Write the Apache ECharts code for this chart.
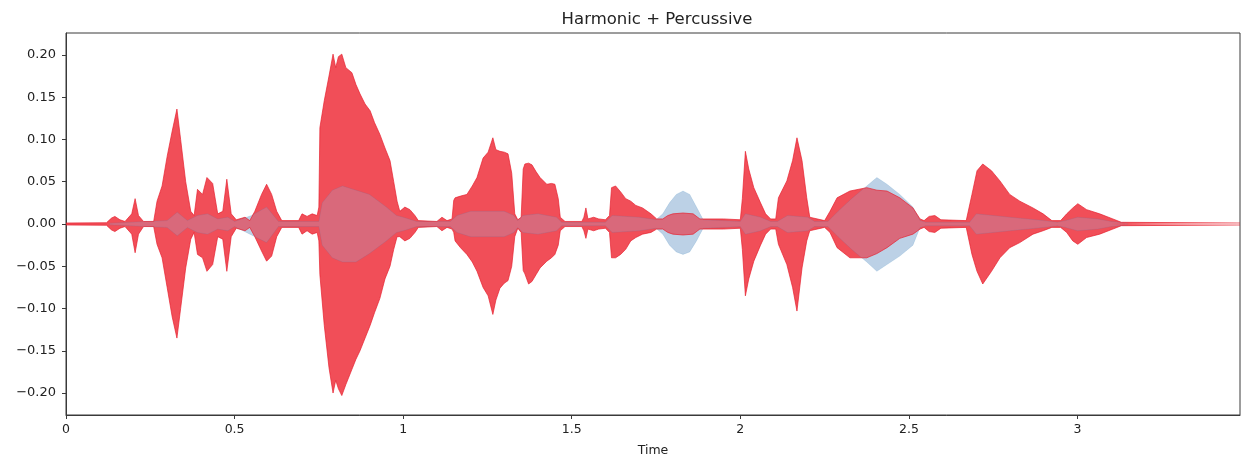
<!DOCTYPE html>
<html>
<head>
<meta charset="utf-8">
<title>Harmonic + Percussive</title>
<script src="https://cdn.jsdelivr.net/npm/echarts@6/dist/echarts.min.js"></script>
<style>
  html, body { margin: 0; padding: 0; background: #fff; }
  #chart { width: 1248px; height: 459px; }
</style>
</head>
<body>
<div id="chart"></div>
<script>
// Percussive component: envelope of the waveform (seconds, upper, lower)
const percTime = [
  0.000, 0.120, 0.135, 0.145, 0.160, 0.175, 0.195, 0.205, 0.215, 0.230,
  0.260, 0.270, 0.285, 0.300, 0.315, 0.329, 0.340, 0.355, 0.370, 0.380,
  0.390, 0.405, 0.418, 0.435, 0.450, 0.465, 0.477, 0.490, 0.505, 0.531,
  0.545, 0.560, 0.580, 0.595, 0.610, 0.625, 0.640, 0.690, 0.700, 0.715,
  0.730, 0.745,
  0.750, 0.753, 0.766, 0.780, 0.792, 0.800, 0.808, 0.818, 0.830, 0.848,
  0.860, 0.872, 0.887, 0.902, 0.915, 0.931, 0.946, 0.961, 0.972, 0.982,
  0.990, 1.005, 1.020, 1.035, 1.045, 1.100, 1.115, 1.130, 1.145,
  1.150, 1.154, 1.170, 1.189, 1.205, 1.219, 1.237, 1.252, 1.266, 1.275,
  1.287, 1.300, 1.311, 1.322, 1.331, 1.340, 1.350, 1.356, 1.361, 1.372,
  1.382, 1.394, 1.406, 1.426, 1.440, 1.450, 1.460, 1.466, 1.480, 1.530,
  1.536, 1.542, 1.548,
  1.565, 1.580, 1.600, 1.612, 1.618, 1.630, 1.645, 1.660, 1.675, 1.690,
  1.710, 1.735, 1.752, 1.770, 1.785, 1.800, 1.830, 1.860, 1.880, 1.950,
  2.000,
  2.006, 2.015, 2.025, 2.040, 2.060, 2.075, 2.090, 2.105, 2.113, 2.138,
  2.155, 2.168, 2.183, 2.197, 2.206, 2.250, 2.266, 2.287, 2.325, 2.375,
  2.405, 2.435, 2.473, 2.512, 2.533,
  2.545, 2.560, 2.577, 2.595, 2.670, 2.687, 2.702, 2.719, 2.745, 2.770,
  2.799, 2.829, 2.868, 2.898, 2.924, 2.950, 2.968, 2.986, 3.001, 3.027,
  3.066, 3.105, 3.130, 3.482
];
const percUpper = [
  0.0012, 0.0015, 0.007, 0.009, 0.005, 0.003, 0.012, 0.030, 0.010, 0.003,
  0.003, 0.027, 0.045, 0.080, 0.110, 0.136, 0.100, 0.050, 0.015, 0.010,
  0.041, 0.035, 0.055, 0.048, 0.012, 0.015, 0.053, 0.012, 0.005, 0.008,
  0.004, 0.015, 0.035, 0.047, 0.035, 0.015, 0.004, 0.004, 0.012, 0.009,
  0.012, 0.010,
  0.020, 0.114, 0.146, 0.175, 0.201, 0.185, 0.198, 0.201, 0.185, 0.179,
  0.165, 0.154, 0.142, 0.134, 0.120, 0.106, 0.090, 0.075, 0.050, 0.027,
  0.015, 0.020, 0.017, 0.010, 0.004, 0.003, 0.008, 0.004, 0.006,
  0.028, 0.031, 0.033, 0.035, 0.045, 0.055, 0.078, 0.085, 0.102, 0.088,
  0.086, 0.085, 0.083, 0.060, 0.012, 0.005, 0.008, 0.065, 0.071, 0.072,
  0.070, 0.062, 0.055, 0.047, 0.048, 0.047, 0.030, 0.008, 0.003, 0.003,
  0.008, 0.019, 0.006,
  0.008, 0.006, 0.005, 0.010, 0.043, 0.045, 0.038, 0.030, 0.027, 0.022,
  0.019, 0.012, 0.006, 0.006, 0.010, 0.012, 0.013, 0.012, 0.006, 0.006,
  0.005,
  0.030, 0.086, 0.065, 0.043, 0.025, 0.012, 0.006, 0.006, 0.031, 0.051,
  0.075, 0.102, 0.075, 0.031, 0.008, 0.004, 0.015, 0.031, 0.039, 0.043,
  0.040, 0.039, 0.031, 0.019, 0.006,
  0.004, 0.009, 0.010, 0.005, 0.004, 0.035, 0.063, 0.071, 0.063, 0.051,
  0.035, 0.027, 0.019, 0.012, 0.004, 0.004, 0.012, 0.019, 0.024, 0.017,
  0.012, 0.006, 0.002, 0.0012
];
const percLower = [
  -0.0012, -0.0015, -0.007, -0.009, -0.005, -0.003, -0.012, -0.034, -0.012, -0.003,
  -0.003, -0.024, -0.040, -0.075, -0.110, -0.135, -0.100, -0.052, -0.018, -0.010,
  -0.036, -0.040, -0.056, -0.048, -0.015, -0.018, -0.056, -0.015, -0.005, -0.008,
  -0.004, -0.015, -0.032, -0.044, -0.038, -0.015, -0.004, -0.004, -0.012, -0.008,
  -0.012, -0.010,
  -0.020, -0.060, -0.120, -0.170, -0.200, -0.185, -0.195, -0.203, -0.190, -0.172,
  -0.160, -0.150, -0.135, -0.120, -0.105, -0.088, -0.065, -0.050, -0.030, -0.015,
  -0.015, -0.020, -0.017, -0.010, -0.004, -0.003, -0.008, -0.004, -0.006,
  -0.010, -0.020, -0.028, -0.036, -0.045, -0.056, -0.075, -0.085, -0.107, -0.090,
  -0.076, -0.070, -0.067, -0.050, -0.015, -0.005, -0.010, -0.055, -0.059, -0.071,
  -0.068, -0.060, -0.052, -0.044, -0.040, -0.036, -0.025, -0.008, -0.003, -0.003,
  -0.008, -0.017, -0.006,
  -0.008, -0.006, -0.005, -0.010, -0.040, -0.040, -0.036, -0.030, -0.020, -0.016,
  -0.012, -0.010, -0.006, -0.006, -0.010, -0.012, -0.013, -0.012, -0.006, -0.006,
  -0.005,
  -0.030, -0.085, -0.065, -0.044, -0.025, -0.012, -0.006, -0.006, -0.024, -0.048,
  -0.075, -0.103, -0.052, -0.020, -0.008, -0.004, -0.010, -0.028, -0.040, -0.040,
  -0.035, -0.028, -0.017, -0.012, -0.006,
  -0.004, -0.009, -0.010, -0.005, -0.004, -0.036, -0.056, -0.071, -0.056, -0.040,
  -0.028, -0.022, -0.012, -0.008, -0.004, -0.004, -0.010, -0.020, -0.024, -0.016,
  -0.012, -0.006, -0.002, -0.0012
];

// Harmonic component: envelope of the waveform (seconds, upper, lower)
const harmTime = [
  0.130, 0.300, 0.330, 0.360, 0.390, 0.420, 0.450, 0.480, 0.500, 0.550,
  0.595, 0.630, 0.750, 0.760, 0.790, 0.820, 0.860, 0.900, 0.950, 0.980,
  1.000, 1.040, 1.140, 1.160, 1.200, 1.300, 1.328, 1.340, 1.355, 1.400,
  1.455, 1.470, 1.600, 1.620, 1.700, 1.750, 1.770, 1.790, 1.810, 1.830,
  1.850, 1.870, 1.890, 2.000, 2.015, 2.060, 2.090, 2.110, 2.140, 2.200,
  2.220, 2.260, 2.290, 2.330, 2.375, 2.405, 2.435, 2.473, 2.512, 2.533,
  2.550, 2.680, 2.700, 2.800, 2.900, 2.940, 2.965, 3.000, 3.060, 3.100,
  3.150
];
const harmUpper = [
  0.001, 0.004, 0.014, 0.004, 0.010, 0.012, 0.006, 0.008, 0.003, 0.010,
  0.020, 0.003, 0.003, 0.025, 0.040, 0.045, 0.040, 0.035, 0.020, 0.010,
  0.008, 0.003, 0.003, 0.010, 0.015, 0.015, 0.010, 0.004, 0.010, 0.012,
  0.008, 0.002, 0.002, 0.010, 0.008, 0.005, 0.012, 0.025, 0.035, 0.039,
  0.035, 0.020, 0.005, 0.003, 0.012, 0.008, 0.003, 0.003, 0.010, 0.008,
  0.003, 0.003, 0.015, 0.030, 0.045, 0.055, 0.047, 0.035, 0.020, 0.004,
  0.002, 0.002, 0.012, 0.008, 0.004, 0.002, 0.004, 0.008, 0.006, 0.003,
  0.001
];
const harmLower = [
  -0.001, -0.004, -0.014, -0.004, -0.010, -0.012, -0.006, -0.008, -0.003, -0.013,
  -0.022, -0.003, -0.003, -0.025, -0.040, -0.045, -0.045, -0.035, -0.020, -0.010,
  -0.008, -0.003, -0.003, -0.010, -0.015, -0.015, -0.010, -0.004, -0.010, -0.012,
  -0.008, -0.002, -0.002, -0.010, -0.008, -0.005, -0.012, -0.025, -0.033, -0.036,
  -0.033, -0.020, -0.005, -0.003, -0.012, -0.008, -0.003, -0.003, -0.010, -0.008,
  -0.003, -0.003, -0.015, -0.030, -0.045, -0.056, -0.048, -0.038, -0.025, -0.004,
  -0.002, -0.002, -0.012, -0.008, -0.004, -0.002, -0.004, -0.008, -0.006, -0.003,
  -0.001
];

// Axis ticks
const xTicks = [0, 0.5, 1, 1.5, 2, 2.5, 3];
const yTicks = [-0.2, -0.15, -0.1, -0.05, 0, 0.05, 0.1, 0.15, 0.2];

const pair = (ts, vs) => ts.map((t, i) => [t, vs[i]]);

const FONT = 'DejaVu Sans';
const AXIS_COLOR = '#3a3a3a';
const TEXT_COLOR = '#222';
const RED_FILL = 'rgba(238, 34, 46, 0.80)';
const RED_LINE = 'rgba(230, 30, 44, 0.85)';
// harmonic band: a blue layer under the percussive band, plus a pale
// wash on top so the overlap reads as a muted mauve
const BLUE_FILL = 'rgba(31, 119, 180, 0.30)';
const BLUE_LINE = 'rgba(31, 119, 180, 0.15)';
const WASH_FILL = 'rgba(190, 196, 228, 0.28)';

function envelopeSeries(name, ts, vs, fill, line) {
  return {
    name: name,
    type: 'line',
    data: pair(ts, vs),
    showSymbol: false,
    symbol: 'none',
    smooth: false,
    silent: true,
    animation: false,
    lineStyle: { color: line, width: 0.8 },
    areaStyle: { color: fill, opacity: 1, origin: 0 }
  };
}

const chart = echarts.init(document.getElementById('chart'), null, { renderer: 'canvas' });

chart.setOption({
  animation: false,
  backgroundColor: '#ffffff',
  title: {
    text: 'Harmonic + Percussive',
    left: 652,
    textAlign: 'center',
    top: 6,
    textStyle: { fontFamily: FONT, fontSize: 16.5, fontWeight: 'normal', color: TEXT_COLOR }
  },
  grid: {
    left: 66, right: 8, top: 33, bottom: 44,
    containLabel: false,
    outerBoundsMode: 'none',
    show: true, borderColor: AXIS_COLOR, borderWidth: 1, backgroundColor: 'transparent'
  },
  xAxis: {
    type: 'value',
    min: 0,
    max: 3.482,
    name: 'Time',
    nameLocation: 'middle',
    nameGap: 29,
    nameTextStyle: { fontFamily: FONT, fontSize: 12.5, color: TEXT_COLOR },
    axisLine: { show: true, onZero: false, lineStyle: { color: AXIS_COLOR, width: 1 } },
    axisTick: { show: true, length: 4, lineStyle: { color: AXIS_COLOR }, customValues: xTicks },
    axisLabel: {
      fontFamily: FONT, fontSize: 12.5, color: TEXT_COLOR, margin: 8,
      customValues: xTicks,
      formatter: v => String(v)
    },
    splitLine: { show: false }
  },
  yAxis: {
    type: 'value',
    min: -0.226,
    max: 0.226,
    axisLine: { show: true, onZero: false, lineStyle: { color: AXIS_COLOR, width: 1 } },
    axisTick: { show: true, length: 4, lineStyle: { color: AXIS_COLOR }, customValues: yTicks },
    axisLabel: {
      fontFamily: FONT, fontSize: 13, color: TEXT_COLOR, margin: 10,
      customValues: yTicks,
      formatter: v => (v < 0 ? '\u2212' : '') + Math.abs(v).toFixed(2)
    },
    splitLine: { show: false }
  },
  series: [
    envelopeSeries('harmonic-upper', harmTime, harmUpper, BLUE_FILL, BLUE_LINE),
    envelopeSeries('harmonic-lower', harmTime, harmLower, BLUE_FILL, BLUE_LINE),
    envelopeSeries('percussive-upper', percTime, percUpper, RED_FILL, RED_LINE),
    envelopeSeries('percussive-lower', percTime, percLower, RED_FILL, RED_LINE),
    envelopeSeries('harmonic-wash-upper', harmTime, harmUpper, WASH_FILL, 'rgba(0,0,0,0)'),
    envelopeSeries('harmonic-wash-lower', harmTime, harmLower, WASH_FILL, 'rgba(0,0,0,0)')
  ]
});
</script>
</body>
</html>
